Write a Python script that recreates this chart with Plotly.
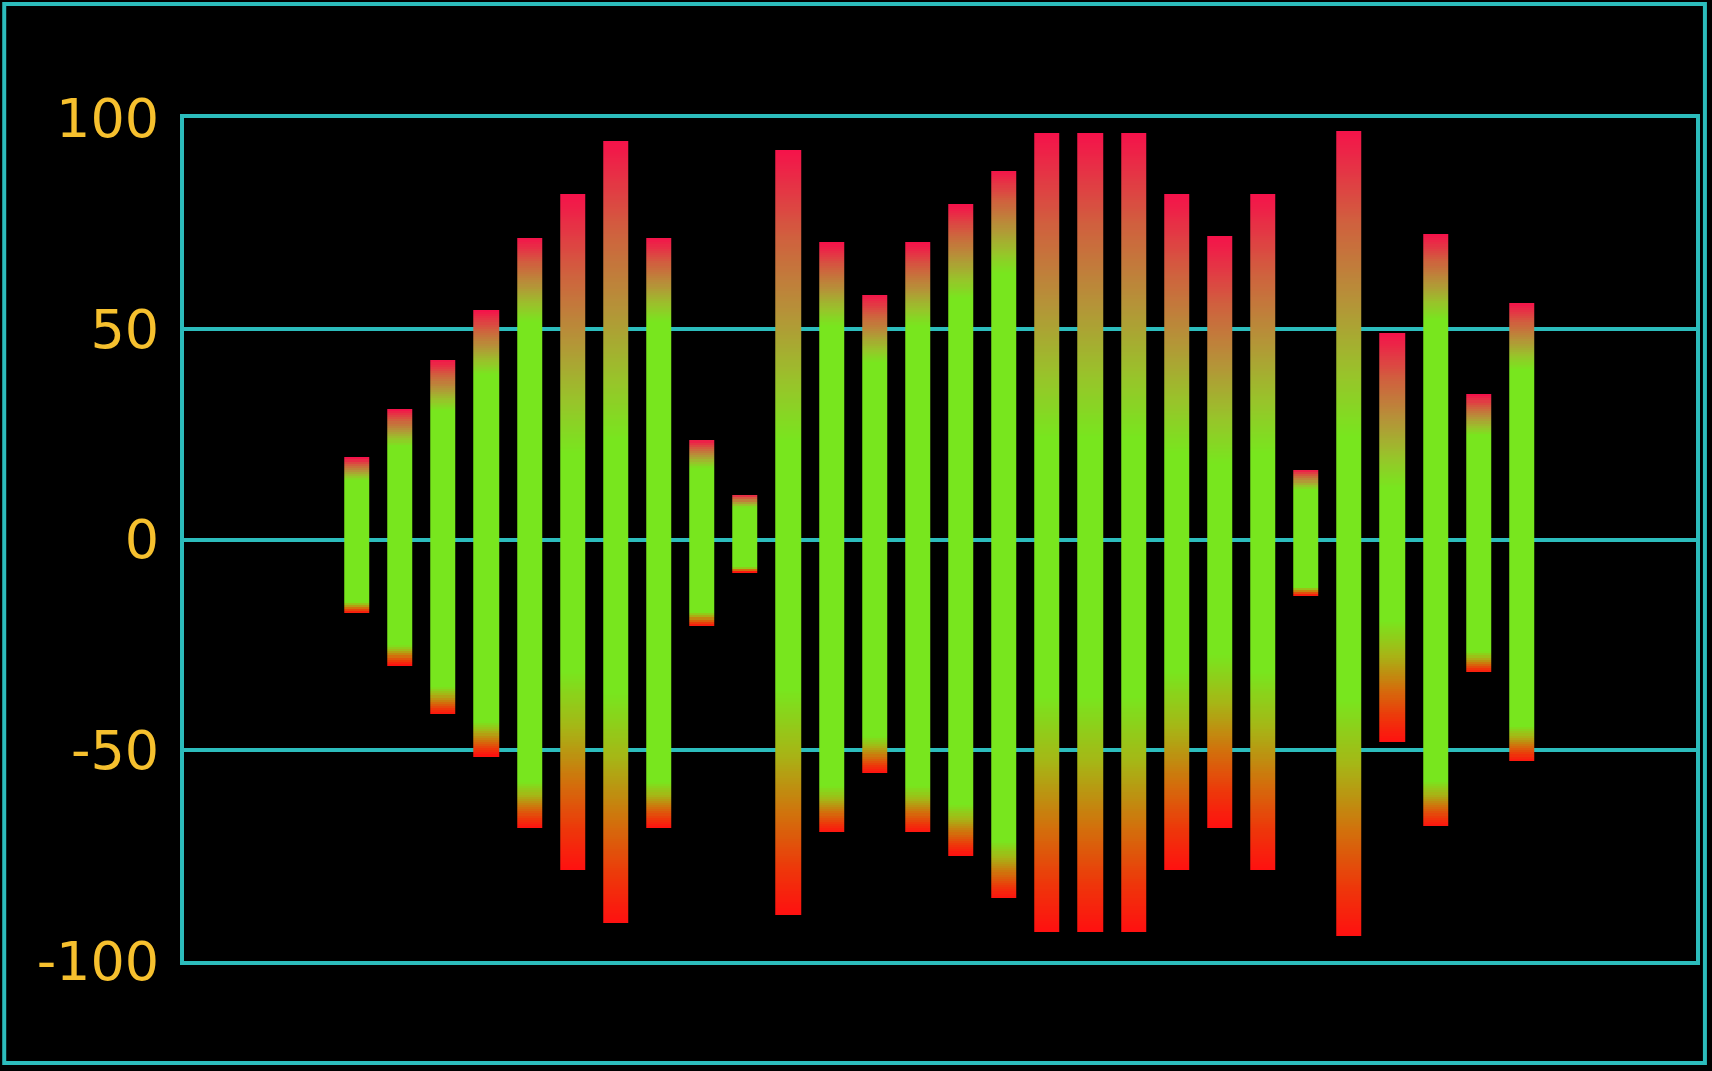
import numpy as np
import plotly.graph_objects as go

# ---- data ----
bands = list(range(1, 29))
peak_top = [19.3, 30.8, 42.6, 54.3, 71.5, 81.8, 94.5, 71.5, 23.6, 10.6,
            92.5, 70.3, 58.1, 70.3, 79.4, 87.7, 96.3, 96.3, 96.3, 81.8,
            71.9, 81.8, 16.5, 97.2, 49.0, 72.3, 34.3, 56.1]
peak_bottom = [-17.5, -29.8, -41.6, -51.4, -68.5, -78.4, -91.1, -68.5, -20.5, -7.8,
               -89.1, -69.7, -55.5, -69.7, -74.9, -85.2, -92.9, -92.9, -92.9, -78.4,
               -68.3, -78.4, -13.4, -94.1, -48.0, -68.2, -31.7, -52.7]
hot_bands = [0, 0, 0, 0, 0, 1, 1, 0, 0, 0,
             1, 0, 0, 0, 0, 0, 1, 1, 1, 1,
             1, 1, 0, 1, 1, 0, 0, 0]
y_ticks = [-100, -50, 0, 50, 100]
y_labels = ["-100", "-50", "0", "50", "100"]

# ---- style ----
CYAN = "#2cbcbc"
LABEL = "#f6c02e"
step = 0.5
ybins = np.arange(-100 + step / 2, 100, step)

# gradient: green body, red tip (top crimson, bottom red)
z = np.full((len(ybins), len(bands)), np.nan)
for i in range(len(bands)):
    top, bot, hot = peak_top[i], peak_bottom[i], hot_bands[i]
    g_top = 0.25 if hot else 0.72
    g_bot = 0.40 if hot else 0.84
    for j, yv in enumerate(ybins):
        if 0 <= yv <= top:
            t = yv / top
            z[j, i] = min(max((t - g_top) / (1 - g_top), 0), 1)
        elif bot <= yv < 0:
            t = yv / bot
            z[j, i] = -min(max((t - g_bot) / (1 - g_bot), 0), 1)

zlist = [[None if np.isnan(v) else float(v) for v in row] for row in z]

colorscale = [
    [0.0, "#ff1010"],
    [0.1, "#ee360a"],
    [0.22, "#d2700c"],
    [0.36, "#a6b616"],
    [0.5, "#78e61e"],
    [0.6, "#98c42a"],
    [0.72, "#b59338"],
    [0.85, "#d0603e"],
    [1.0, "#f5124a"],
]

fig = go.Figure(
    go.Heatmap(
        x=bands,
        y=ybins.tolist(),
        z=zlist,
        zmin=-1,
        zmax=1,
        colorscale=colorscale,
        showscale=False,
        xgap=18,
        ygap=0,
        hoverinfo="skip",
    )
)

fig.update_layout(
    width=1712,
    height=1071,
    paper_bgcolor="black",
    plot_bgcolor="black",
    margin=dict(l=184, r=14, t=118, b=110),
    showlegend=False,
    shapes=[
        dict(
            type="rect", xref="paper", yref="paper",
            x0=-0.1189, x1=1.0059, y0=-0.121, y1=1.1352,
            line=dict(color=CYAN, width=4), layer="below",
        )
    ],
)
fig.update_xaxes(
    range=[-3.005, 32.04],
    showgrid=False, zeroline=False, showticklabels=False, ticks="",
    showline=True, mirror=True, linecolor=CYAN, linewidth=4,
)
fig.update_yaxes(
    range=[-100, 100],
    tickvals=y_ticks, ticktext=y_labels,
    showgrid=True, gridcolor=CYAN, gridwidth=3.5,
    zeroline=False, ticks="",
    showline=True, mirror=True, linecolor=CYAN, linewidth=4,
    tickfont=dict(family="DejaVu Sans", size=54, color=LABEL),
    ticklabelstandoff=10,
)

fig.write_html("out.html")
